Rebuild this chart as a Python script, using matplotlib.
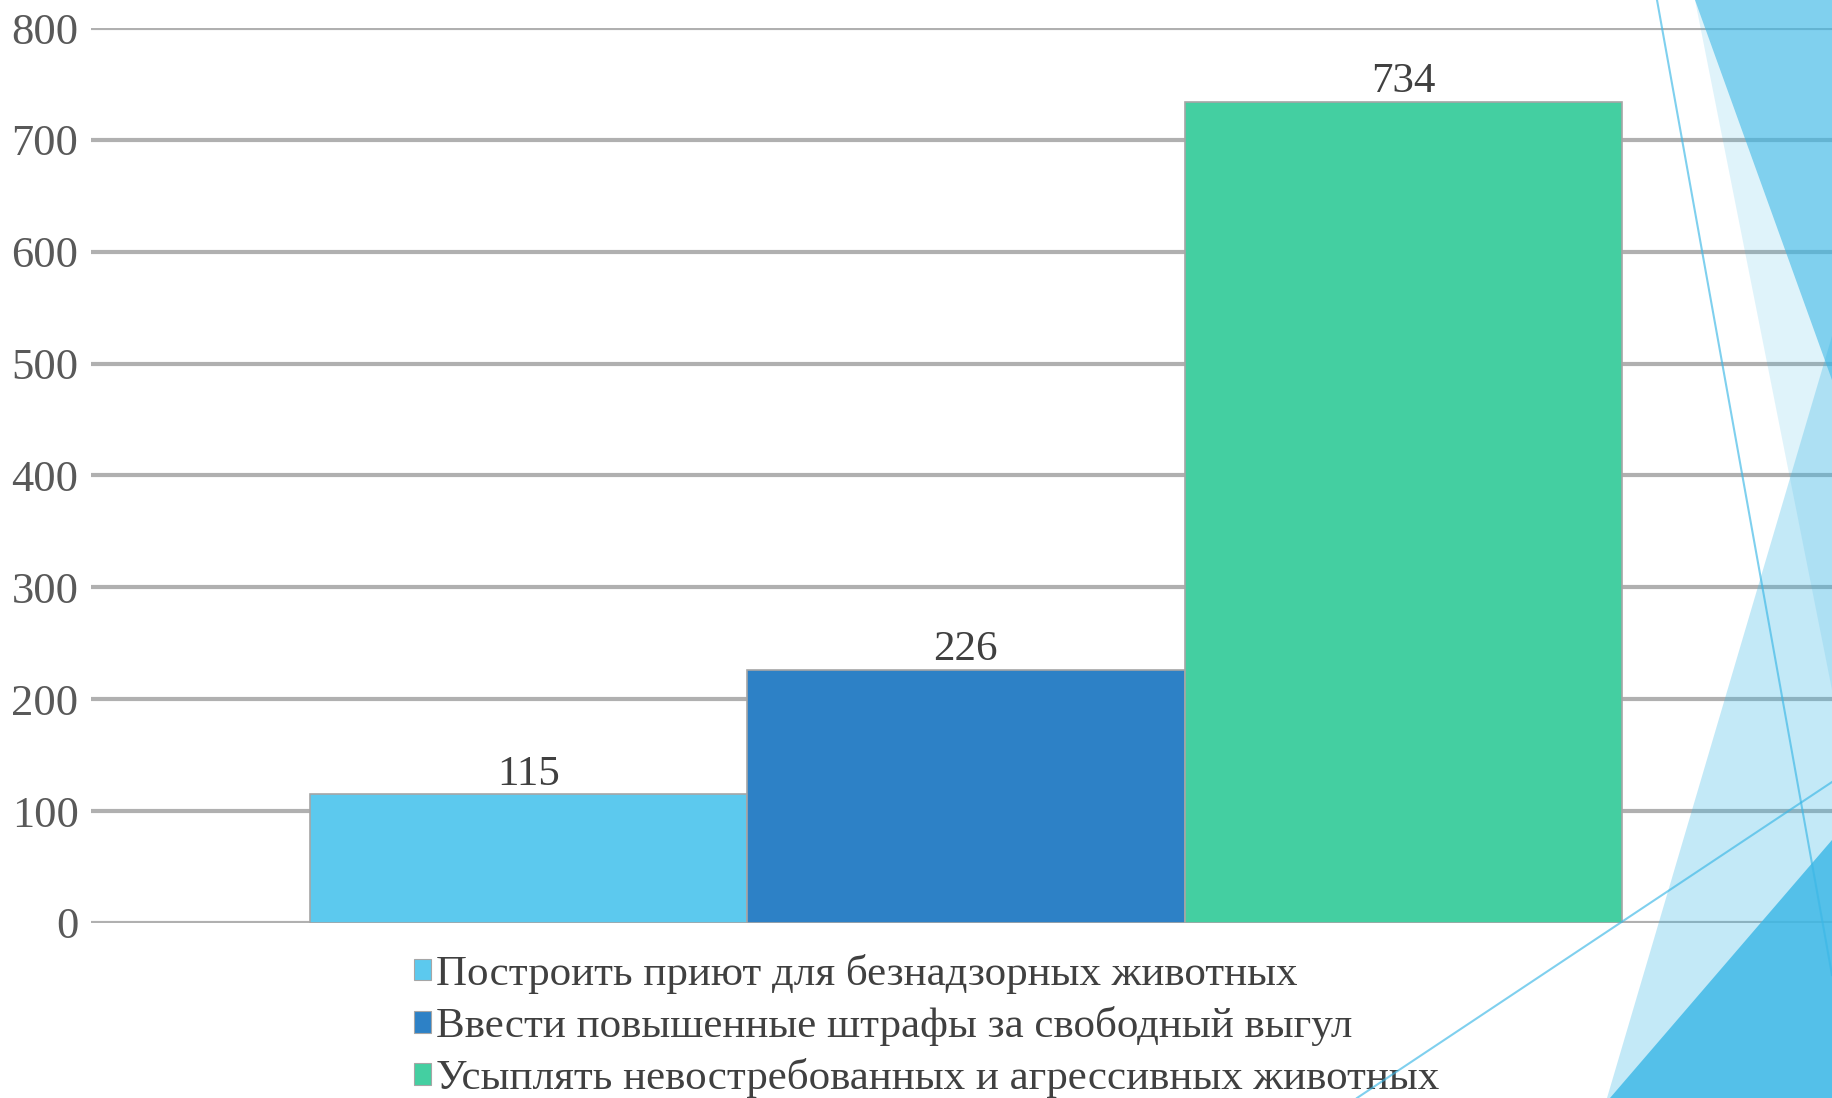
import matplotlib
matplotlib.use("Agg")
import matplotlib.pyplot as plt
from matplotlib.patches import Patch, Polygon
from matplotlib.lines import Line2D

# data
labels = ["Построить приют для безнадзорных животных",
          "Ввести повышенные штрафы за свободный выгул",
          "Усыплять невостребованных и агрессивных животных"]
values = [115, 226, 734]
colors = ["#5cc9ee", "#2d81c6", "#44cfa1"]
yticks = [0, 100, 200, 300, 400, 500, 600, 700, 800]

plt.rcParams['font.family'] = ['Liberation Serif', 'DejaVu Serif']

W, H = 1832, 1098
fig = plt.figure(figsize=(W / 100, H / 100), dpi=100)
ax = fig.add_axes([91 / W, 175 / H, 1 - 91 / W, (1070 - 175) / H])

x = range(len(values))
bars = ax.bar(x, values, width=1.0, color=colors, edgecolor="#a6a6a6", linewidth=1.2, zorder=3)
for b, v in zip(bars, values):
    ax.annotate(str(v), (b.get_x() + b.get_width() / 2, v), xytext=(0, 7),
                textcoords="offset points", ha="center", va="baseline",
                fontsize=31, color="#404040", zorder=4)

ax.set_xlim(-1.0, 2.98)
ax.set_ylim(0, 800)
ax.set_yticks(yticks)
ax.set_xticks([])
ax.tick_params(axis="y", length=0, pad=9, labelsize=32, labelcolor="#595959")
ax.yaxis.grid(True, color="#b0b0b0", linewidth=3)
ax.set_axisbelow(True)
for s in ax.spines.values():
    s.set_visible(False)
ax.patch.set_alpha(0)

handles = [Patch(facecolor=c, edgecolor="#a6a6a6", linewidth=0.8) for c in colors]
fig.legend(handles, labels, loc="upper left", bbox_to_anchor=(414 / W, 1 - 954 / H),
           frameon=False, fontsize=31, handlelength=0.4, handleheight=0.4,
           handletextpad=0.12, labelspacing=0.28, borderpad=0, borderaxespad=0,
           labelcolor="#404040")

# slide decoration on the right
def P(pts):
    return [(px / W, 1 - py / H) for px, py in pts]

base = "#3bb7e6"
deco = [
    ([(1695, 0), (1832, 0), (1832, 690)], 0.16),
    ([(1695, 0), (1832, 0), (1832, 380)], 0.58),
    ([(1832, 336), (1607, 1098), (1832, 1098)], 0.30),
    ([(1832, 840), (1610, 1098), (1832, 1098)], 0.81),
]
for pts, a in deco:
    fig.add_artist(Polygon(P(pts), closed=True, transform=fig.transFigure,
                           facecolor=base, alpha=a, edgecolor="none", zorder=10))
for pts in [[(1657, 0), (1832, 975)], [(1357, 1098), (1832, 782)]]:
    xs, ys = zip(*P(pts))
    fig.add_artist(Line2D(xs, ys, transform=fig.transFigure, color=base,
                          alpha=0.65, linewidth=1.5, zorder=11))

fig.savefig("out.png", dpi=100)
